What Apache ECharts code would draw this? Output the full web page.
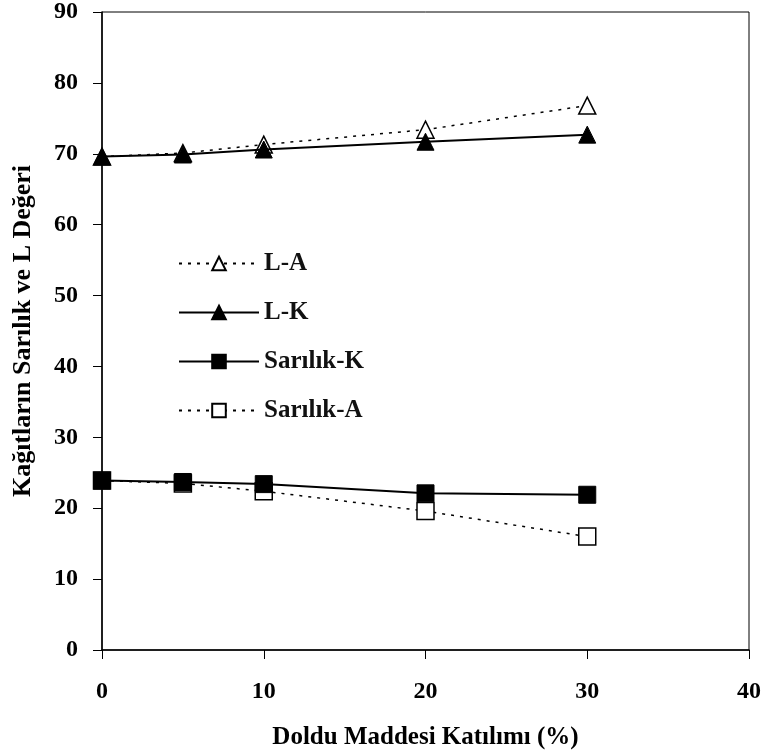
<!DOCTYPE html>
<html><head><meta charset="utf-8">
<script src="https://cdn.jsdelivr.net/npm/echarts@6/dist/echarts.min.js"></script>
<style>html,body{margin:0;padding:0;background:#fff}#c{width:764px;height:755px}</style>
</head><body><div id="c"></div>
<script>
const xValues = [0, 5, 10, 20, 30];
const lA = [69.6, 70.1, 71.3, 73.4, 76.8];
const lK = [69.6, 69.9, 70.6, 71.7, 72.7];
const sarilikK = [23.9, 23.7, 23.4, 22.1, 21.9];
const sarilikA = [23.9, 23.5, 22.4, 19.6, 16.0];
const seriesNames = ['L-A', 'L-K', 'Sarılık-K', 'Sarılık-A'];

const font = '"Liberation Serif", "DejaVu Serif", serif';
const pair = arr => xValues.map((x, i) => [x, arr[i]]);

const chart = echarts.init(document.getElementById('c'), null, {renderer: 'canvas'});
chart.setOption({
  animation: false,
  backgroundColor: '#fff',
  grid: {left: 102, right: 12, top: 12, bottom: 103, show: true, borderColor: '#000', borderWidth: 1},
  xAxis: {
    type: 'value', min: 0, max: 40, interval: 10,
    name: 'Doldu Maddesi Katılımı (%)', nameLocation: 'middle', nameGap: 75,
    nameTextStyle: {fontFamily: font, fontWeight: 'bold', fontSize: 25, color: '#000'},
    axisLine: {show: true, lineStyle: {color: '#000', width: 1.5}},
    axisTick: {show: true, inside: false, length: 9, lineStyle: {color: '#000'}},
    axisLabel: {fontFamily: font, fontWeight: 'bold', fontSize: 24, color: '#000', margin: 30},
    splitLine: {show: false}
  },
  yAxis: {
    type: 'value', min: 0, max: 90, interval: 10,
    name: 'Kağıtların Sarılık ve L Değeri', nameLocation: 'middle', nameGap: 66, nameRotate: 90,
    nameTextStyle: {fontFamily: font, fontWeight: 'bold', fontSize: 26, color: '#000'},
    axisLine: {show: true, lineStyle: {color: '#000', width: 1.5}},
    axisTick: {show: true, inside: false, length: 9, lineStyle: {color: '#000'}},
    axisLabel: {fontFamily: font, fontWeight: 'bold', fontSize: 24, color: '#000', margin: 24},
    splitLine: {show: false}
  },
  legend: {
    data: seriesNames, orient: 'vertical', left: 173, top: 246, itemGap: 24,
    itemWidth: 80, itemHeight: 17,
    textStyle: {fontFamily: font, fontWeight: 'bold', fontSize: 25, color: '#111'}
  },
  series: [
    {name: 'L-A', type: 'line', data: pair(lA), symbol: 'triangle', symbolSize: 17, z: 2,
     lineStyle: {color: '#000', width: 1.5, type: [3, 6]},
     itemStyle: {color: '#fff', borderColor: '#000', borderWidth: 1.5}},
    {name: 'L-K', type: 'line', data: pair(lK), symbol: 'triangle', symbolSize: 17, z: 3,
     lineStyle: {color: '#000', width: 2, type: 'solid'},
     itemStyle: {color: '#000', borderColor: '#000', borderWidth: 1}},
    {name: 'Sarılık-A', type: 'line', data: pair(sarilikA), symbol: 'rect', symbolSize: 17, z: 2,
     lineStyle: {color: '#000', width: 1.5, type: [3, 6]},
     itemStyle: {color: '#fff', borderColor: '#000', borderWidth: 1.5}},
    {name: 'Sarılık-K', type: 'line', data: pair(sarilikK), symbol: 'rect', symbolSize: 17, z: 3,
     lineStyle: {color: '#000', width: 2, type: 'solid'},
     itemStyle: {color: '#000', borderColor: '#000', borderWidth: 1}}
  ]
});
</script></body></html>
